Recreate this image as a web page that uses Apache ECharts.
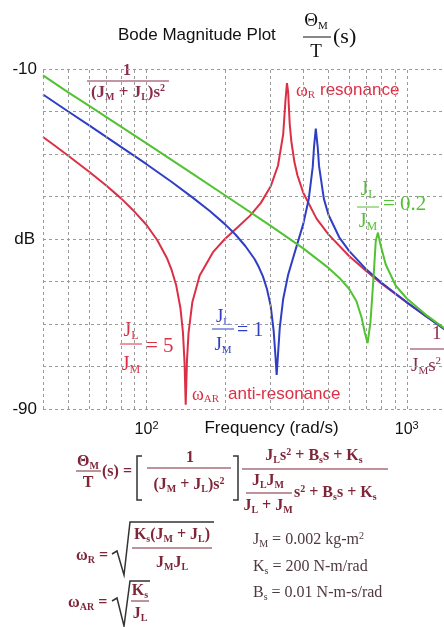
<!DOCTYPE html>
<html>
<head>
<meta charset="utf-8">
<script src="https://cdn.jsdelivr.net/npm/echarts@6/dist/echarts.min.js"></script>
<style>
  html, body { margin: 0; padding: 0; background: #fff; }
  #chart { width: 444px; height: 627px; }
</style>
</head>
<body>
<div id="chart"></div>
<script>
// frequencies in rad/s, magnitudes in dB
const redFreq = [40, 45, 50, 60, 70, 80, 90, 100, 110, 120, 125, 130, 135, 138, 140, 141.4, 143, 145, 150, 160, 180, 200, 225, 250, 275, 300, 320, 335, 342, 346.4, 350, 355, 360, 370, 380, 400, 450, 500, 600, 700, 800, 1000, 1200, 1400]
const redDb = [-26.0, -28.3, -30.4, -34.1, -37.4, -40.5, -43.6, -46.7, -50.3, -54.6, -57.4, -60.9, -66.3, -72.0, -79.3, -89.0, -78.6, -72.1, -64.8, -58.6, -53.1, -50.0, -47.1, -44.5, -41.5, -37.6, -32.7, -25.4, -17.2, -13.3, -15.4, -23.0, -27.0, -31.9, -35.0, -39.1, -45.2, -48.9, -54.0, -57.6, -60.5, -64.9, -68.4, -71.2]

const blueFreq = [40, 50, 60, 80, 100, 125, 150, 175, 200, 220, 240, 260, 270, 280, 290, 300, 308, 313, 316.2, 319, 325, 335, 350, 375, 400, 420, 435, 440, 447, 455, 460, 480, 500, 550, 600, 700, 800, 1000, 1200, 1400]
const blueDb = [-16.0, -20.0, -23.2, -28.4, -32.4, -36.6, -40.2, -43.4, -46.5, -49.0, -51.7, -54.7, -56.6, -58.8, -61.7, -65.8, -71.7, -77.7, -82.0, -78.4, -70.9, -64.1, -58.4, -52.2, -46.5, -40.6, -33.1, -28.4, -24.0, -28.6, -32.8, -40.5, -44.3, -49.6, -52.8, -57.2, -60.3, -64.9, -68.4, -71.3]

const greenFreq = [40, 50, 60, 80, 100, 150, 200, 300, 400, 500, 550, 600, 640, 670, 690, 707, 725, 745, 760, 775, 790, 830, 907, 1000, 1200, 1400]
const greenDb = [-11.5, -15.5, -18.6, -23.6, -27.5, -34.6, -39.7, -46.9, -52.2, -56.8, -59.1, -61.7, -64.6, -68.4, -72.0, -74.5, -69.6, -59.1, -50.4, -48.5, -51.0, -56.0, -61.0, -64.0, -68.1, -71.1]

const xGridTicks = [40, 50, 60, 70, 80, 90, 100, 200, 300, 400, 500, 600, 700, 800, 900, 1000]
const xLabelTicks = [100, 1000]
const yLabelTicks = [-10, -90]

const RED = '#dc2f45'
const BLUE = '#2f3ec4'
const GREEN = '#52c232'
const MAROON = '#7e2638'
const GRID = '#9a9a9a'

const serif = '"Liberation Serif", "DejaVu Serif", serif'
const sans = '"Liberation Sans", Arial, sans-serif'

const pairs = (f, d) => f.map((v, i) => [v, d[i]])

function richFor(size, color, weight) {
    const sub = Math.round(size * 0.6)
    return {
        v: { fontFamily: serif, fontSize: size, fontWeight: weight, fill: color, color: color },
        s: { fontFamily: serif, fontSize: sub, fontWeight: weight, fill: color, color: color, padding: [Math.round(size * 0.5), 0, 0, 0] },
        p: { fontFamily: serif, fontSize: sub, fontWeight: weight, fill: color, color: color, padding: [0, 0, Math.round(size * 0.5), 0] }
    }
}

// text element, x/y is the anchor, text uses {s|..} for sub and {p|..} for sup
function txt(x, y, text, opt) {
    const size = opt.size || 17
    const color = opt.color || '#111'
    const weight = opt.weight || 'normal'
    return {
        type: 'text', x: x, y: y, silent: true,
        style: {
            text: text,
            font: weight + ' ' + size + 'px ' + (opt.font || serif),
            fill: color,
            textAlign: opt.align || 'left', align: opt.align || 'left',
            textVerticalAlign: 'middle', verticalAlign: 'middle',
            rich: richFor(size, color, weight)
        }
    }
}

function hline(x1, x2, y, color, w) {
    return { type: 'line', silent: true, shape: { x1: x1, y1: y, x2: x2, y2: y }, style: { stroke: color, lineWidth: w || 1 } }
}

function poly(points, color, w) {
    return { type: 'polyline', silent: true, shape: { points: points }, style: { stroke: color, lineWidth: w || 1.5, fill: null } }
}

const eq = { size: 16, color: MAROON, weight: 'bold' }
const par = { size: 16, color: '#4e3842' }
const mid = o => Object.assign({ align: 'center' }, o)

const graphics = [
    // title
    txt(118, 35, 'Bode Magnitude Plot', { size: 17, font: sans }),
    txt(316, 21, 'Θ{s|M}', { size: 19, align: 'center' }),
    hline(303, 331, 37, '#111'),
    txt(316, 52, 'T', { size: 19, align: 'center' }),
    txt(333, 37, '(s)', { size: 22 }),

    // annotations inside the plot
    txt(127, 71, '1', { size: 16, color: '#8a2c4c', weight: 'bold', align: 'center' }),
    hline(87, 169, 81, '#8a2c4c'),
    txt(128, 93, '(J{s|M} + J{s|L})s{p|2}', { size: 17, color: '#8a2c4c', weight: 'bold', align: 'center' }),

    txt(296, 91, 'ω{s|R}', { size: 18, color: RED }),
    txt(320, 90, 'resonance', { size: 17, color: RED, font: sans }),

    txt(368, 190, 'J{s|L}', { size: 20, color: GREEN, align: 'center' }),
    hline(357, 379, 207, GREEN),
    txt(368, 222, 'J{s|M}', { size: 20, color: GREEN, align: 'center' }),
    txt(383, 204, '= 0.2', { size: 21, color: GREEN }),

    txt(131, 331, 'J{s|L}', { size: 20, color: RED, align: 'center' }),
    hline(120, 142, 344, RED),
    txt(131, 365, 'J{s|M}', { size: 20, color: RED, align: 'center' }),
    txt(146, 346, '= 5', { size: 21, color: RED }),

    txt(223, 317, 'J{s|L}', { size: 19, color: BLUE, align: 'center' }),
    hline(212, 234, 329, BLUE),
    txt(223, 345, 'J{s|M}', { size: 19, color: BLUE, align: 'center' }),
    txt(237, 331, '= 1', { size: 20, color: BLUE }),

    txt(192, 395, 'ω{s|AR}', { size: 18, color: RED }),
    txt(228, 394, 'anti-resonance', { size: 17, color: RED, font: sans }),

    txt(432, 334, '1', { size: 19, color: '#8a2c4c' }),
    hline(410, 444, 349, '#8a2c4c'),
    txt(411, 366, 'J{s|M}s{p|2}', { size: 19, color: '#8a2c4c' }),

    // transfer function
    txt(88, 462, 'Θ{s|M}', mid(eq)),
    hline(76, 101, 471, MAROON),
    txt(88, 483, 'T', mid(eq)),
    txt(102, 472, '(s) =', eq),
    poly([[142, 456], [137, 456], [137, 500], [142, 500]], '#333', 1.5),
    txt(190, 458, '1', mid(eq)),
    hline(147, 231, 468, MAROON),
    txt(189, 485, '(J{s|M} + J{s|L})s{p|2}', mid(eq)),
    poly([[233, 456], [238, 456], [238, 500], [233, 500]], '#333', 1.5),
    txt(314, 456, 'J{s|L}s{p|2} + B{s|s}s + K{s|s}', mid(eq)),
    hline(242, 388, 469, MAROON),
    txt(268, 481, 'J{s|L}J{s|M}', mid(eq)),
    hline(246, 292, 493, MAROON),
    txt(268, 506, 'J{s|L} + J{s|M}', mid(eq)),
    txt(294, 493, 's{p|2} + B{s|s}s + K{s|s}', eq),

    // resonance formulas
    txt(76, 556, 'ω{s|R} =', eq),
    poly([[112, 554], [117, 551], [124, 575], [130, 522], [214, 522]], '#333', 1.5),
    txt(172, 535, 'K{s|s}(J{s|M} + J{s|L})', mid(eq)),
    hline(132, 212, 548, MAROON),
    txt(172, 563, 'J{s|M}J{s|L}', mid(eq)),

    txt(68, 603, 'ω{s|AR} =', eq),
    poly([[112, 601], [117, 598], [124, 626], [130, 581], [150, 581]], '#333', 1.5),
    txt(140, 591, 'K{s|s}', mid(eq)),
    hline(131, 149, 601, MAROON),
    txt(140, 614, 'J{s|L}', mid(eq)),

    // parameters
    txt(253, 540, 'J{s|M} = 0.002 kg-m{p|2}', par),
    txt(253, 567, 'K{s|s} = 200 N-m/rad', par),
    txt(253, 593, 'B{s|s} = 0.01 N-m-s/rad', par)
]

const chart = echarts.init(document.getElementById('chart'))

const option = {
    backgroundColor: '#fff',
    animation: false,
    grid: { left: 43, right: 0, top: 69, height: 340, outerBoundsMode: 'none', containLabel: false },
    xAxis: {
        type: 'log',
        logBase: 10,
        min: 40,
        max: 1390,
        name: 'Frequency (rad/s)',
        nameLocation: 'middle',
        nameGap: 19,
        nameMoveOverlap: false,
        nameTextStyle: { fontFamily: sans, fontSize: 17, color: '#111', padding: [0, 0, 0, 56], verticalAlign: 'middle' },
        axisLine: { show: false },
        axisTick: { show: false },
        splitLine: { show: false },
        axisLabel: {
            margin: 11,
            formatter: v => {
                const i = xLabelTicks.findIndex(t => Math.abs(Math.log10(v) - Math.log10(t)) < 0.01)
                return i < 0 ? '' : '{b|10}{p|' + Math.round(Math.log10(xLabelTicks[i])) + '}'
            },
            rich: {
                b: { fontFamily: sans, fontSize: 16, color: '#111' },
                p: { fontFamily: sans, fontSize: 11, color: '#111', padding: [0, 0, 8, 0] }
            }
        }
    },
    yAxis: {
        type: 'value',
        min: -90,
        max: -10,
        interval: 10,
        name: 'dB',
        nameLocation: 'middle',
        nameRotate: 0,
        nameGap: 8,
        nameMoveOverlap: false,
        nameTextStyle: { fontFamily: sans, fontSize: 17, color: '#111' },
        axisLine: { show: false },
        axisTick: { show: false },
        axisLabel: {
            margin: 6,
            fontFamily: sans,
            fontSize: 17,
            color: '#111',
            formatter: v => yLabelTicks.includes(v) ? String(v) : ''
        },
        splitLine: { show: true, lineStyle: { color: GRID, type: [3, 3], width: 1 } }
    },
    series: [
        {
            type: 'line', name: 'JL/JM = 5', data: pairs(redFreq, redDb),
            showSymbol: false, lineStyle: { color: RED, width: 2 }, itemStyle: { color: RED }, z: 3,
            markLine: {
                silent: true, symbol: ['none', 'none'], label: { show: false },
                lineStyle: { color: GRID, type: [3, 3], width: 1 },
                data: xGridTicks.map(v => ({ xAxis: v }))
            }
        },
        {
            type: 'line', name: 'JL/JM = 1', data: pairs(blueFreq, blueDb),
            showSymbol: false, lineStyle: { color: BLUE, width: 2 }, itemStyle: { color: BLUE }, z: 4
        },
        {
            type: 'line', name: 'JL/JM = 0.2', data: pairs(greenFreq, greenDb),
            showSymbol: false, lineStyle: { color: GREEN, width: 2 }, itemStyle: { color: GREEN }, z: 5
        }
    ],
    graphic: graphics
}

chart.setOption(option)
</script>
</body>
</html>
